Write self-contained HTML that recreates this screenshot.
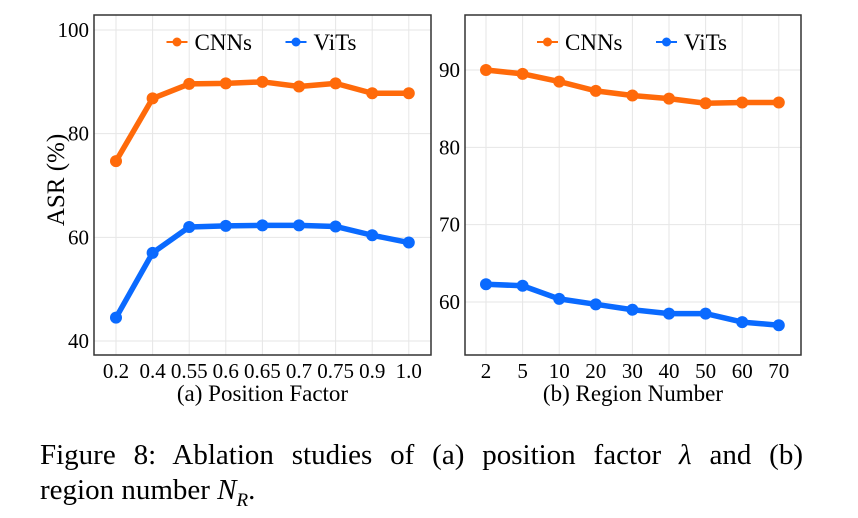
<!DOCTYPE html>
<html><head><meta charset="utf-8"><style>
body{margin:0;background:#fff;width:858px;height:513px;overflow:hidden;font-family:"Liberation Serif",serif}
svg{position:absolute;left:0;top:0}
.cap{position:absolute;left:40px;width:763px;font-size:29px;color:#000;line-height:34px}
</style></head><body>
<svg id="chart" width="858" height="420"></svg>
<div class="cap" style="top:438px;text-align:justify;text-align-last:justify">Figure 8: Ablation studies of (a) position factor <i>λ</i> and (b)</div>
<div class="cap" style="top:473px">region number <i>N<sub style="font-size:19px">R</sub></i>.</div>
<script>
const catsA=["0.2","0.4","0.55","0.6","0.65","0.7","0.75","0.9","1.0"];
const cnnA=[74.7,86.8,89.6,89.7,90.0,89.1,89.7,87.8,87.8];
const vitA=[44.5,57.0,62.0,62.2,62.3,62.3,62.1,60.4,59.0];
const ticksA=[40,60,80,100];
const catsB=["2","5","10","20","30","40","50","60","70"];
const cnnB=[90.0,89.5,88.5,87.3,86.7,86.3,85.7,85.8,85.8];
const vitB=[62.3,62.1,60.4,59.7,59.0,58.5,58.5,57.4,57.0];
const ticksB=[60,70,80,90];
const NS="http://www.w3.org/2000/svg";
const svg=document.getElementById('chart');
function mk(t,a,p){const e=document.createElementNS(NS,t);for(const k in a)e.setAttribute(k,a[k]);(p||svg).appendChild(e);return e;}
function panel(id,box,cats,s1,s2,ticks,y0v,y0p,y1v,y1p,x0,dx,title){
  const g=mk('g',{});
  
  
  const ys=v=>y0p+(v-y0v)*(y1p-y0p)/(y1v-y0v);
  const xs=i=>x0+i*dx;
  ticks.forEach(t=>{
    const l=mk('line',{x1:box[0],x2:box[2],y1:ys(t),y2:ys(t),stroke:'#e6e6e6','stroke-width':1},g);
    
    
    const tx=mk('text',{x:box[0]-5,y:ys(t)+7,'text-anchor':'end','font-size':21,fill:'#000'},g);
    tx.textContent=t;
    
    
  });
  cats.forEach((c,i)=>{
    const l=mk('line',{x1:xs(i),x2:xs(i),y1:box[1],y2:box[3],stroke:'#e6e6e6','stroke-width':1},g);
    
    
    const tx=mk('text',{x:xs(i),y:box[3]+23,'text-anchor':'middle','font-size':21,fill:'#000'},g);
    tx.textContent=c;
    
    
  });
  [[s1,'#ff6a0a','cnns'],[s2,'#0a6aff','vits']].forEach(([s,col,n])=>{
    const pl=mk('polyline',{points:s.map((v,i)=>xs(i)+','+ys(v)).join(' '),fill:'none',stroke:col,'stroke-width':5.5,'stroke-linejoin':'round'},g);
    
    
    s.forEach((v,i)=>{
      const c=mk('circle',{cx:xs(i),cy:ys(v),r:6,fill:col},g);
      
      
    });
  });
  const r=mk('rect',{x:box[0],y:box[1],width:box[2]-box[0],height:box[3]-box[1],fill:'none',stroke:'#333','stroke-width':1.5},g);
  
  
  const lx=(box[0]+box[2])/2-96;
  [['CNNs','#ff6a0a',0],['ViTs','#0a6aff',119]].forEach(([t,col,o])=>{
    const lg=mk('g',{},g);
    
    
    mk('line',{x1:lx+o,x2:lx+o+21,y1:box[1]+27,y2:box[1]+27,stroke:col,'stroke-width':2},lg);
    mk('circle',{cx:lx+o+10.5,cy:box[1]+27,r:4.5,fill:col},lg);
    const tx=mk('text',{x:lx+o+28,y:box[1]+35,'font-size':23,fill:'#000'},lg);
    tx.textContent=t;
  });
  const tt=mk('text',{x:(box[0]+box[2])/2,y:box[3]+46,'text-anchor':'middle','font-size':23,fill:'#000'},g);
  tt.textContent=title;
  
  
}
panel('panel-position-factor',[94,15,431,355],catsA,cnnA,vitA,ticksA,100,30,40,341,116,36.6,'(a) Position Factor');
panel('panel-region-number',[465,15,801,355],catsB,cnnB,vitB,ticksB,90,70,60,302,486,36.6,'(b) Region Number');
const yl=mk('text',{x:0,y:0,transform:'translate(64,180) rotate(-90)','text-anchor':'middle','font-size':25,fill:'#000'});
yl.textContent='ASR (%)';


</script>
</body></html>
